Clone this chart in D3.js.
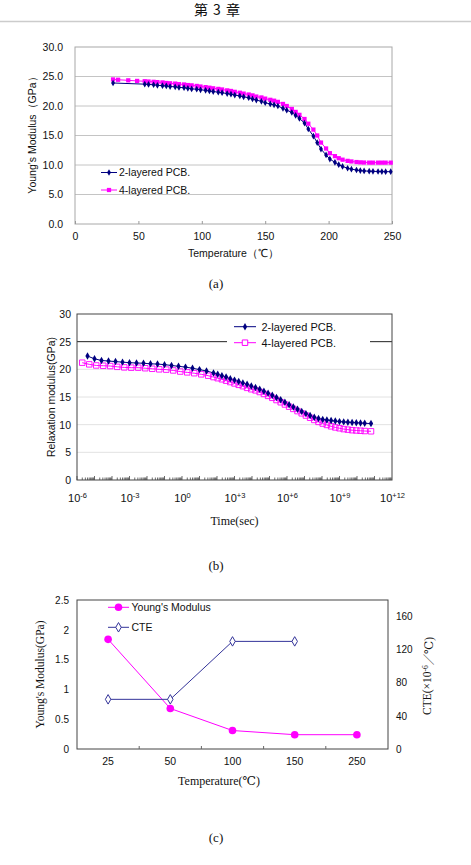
<!DOCTYPE html>
<html>
<head>
<meta charset="utf-8">
<style>
  body { margin: 0; background: #fff; }
  text { font-family: "Liberation Sans", Arial, sans-serif; fill: #111; }
  .serif { font-family: "Liberation Serif", "DejaVu Serif", "Noto Sans CJK JP", serif; }
  .cjk { font-family: "Noto Sans CJK JP", sans-serif; }
</style>
<script src="https://d3js.org/d3.v7.min.js"></script>
</head>
<body>
<script>
// ---- data ----
const headerTitle = "第 3 章";

// (a) Young's modulus vs temperature
const xTicksA = [0, 50, 100, 150, 200, 250];
const yTicksA = [0, 5, 10, 15, 20, 25, 30];
const tempA2 = [30, 55, 58, 62, 65, 69, 72, 75, 79, 82, 86, 89, 92, 96, 99, 103, 106, 109, 113, 116,
  120, 123, 126, 130, 133, 137, 140, 143, 147, 150, 154, 157, 160, 164, 167, 171, 174, 177, 181, 184,
  188, 191, 194, 198, 201, 205, 208, 211, 215, 218, 222, 225, 228, 232, 235, 239, 242, 245, 249];
const modA2 = [23.9, 23.7, 23.65, 23.6, 23.5, 23.45, 23.4, 23.3, 23.25, 23.15, 23.1, 23.0, 22.9, 22.85, 22.75,
  22.65, 22.55, 22.45, 22.35, 22.25, 22.1, 22.0, 21.85, 21.7, 21.55, 21.4, 21.2, 21.0, 20.8, 20.55,
  20.35, 20.2, 20.0, 19.6, 19.3, 18.9, 18.4, 17.9, 17.1, 16.1, 14.9, 13.8, 12.7, 11.7, 11.0,
  10.45, 10.05, 9.75, 9.45, 9.3, 9.15, 9.05, 9.0, 8.95, 8.92, 8.9, 8.88, 8.87, 8.87];
const tempA4 = [30, 34, 42, 49, 55, 58, 62, 65, 69, 72, 75, 79, 82, 86, 89, 92, 96, 99, 103, 106, 109, 113, 116,
  120, 123, 126, 130, 133, 137, 140, 143, 147, 150, 154, 157, 160, 164, 167, 171, 174, 177, 181, 184,
  188, 191, 194, 198, 201, 205, 208, 211, 215, 218, 222, 225, 228, 232, 235, 239, 242, 245, 249];
const modA4 = [24.5, 24.45, 24.35, 24.25, 24.2, 24.15, 24.1, 24.05, 24.0, 23.9, 23.85, 23.8, 23.7, 23.65, 23.55,
  23.5, 23.4, 23.3, 23.2, 23.1, 23.0, 22.9, 22.8, 22.65, 22.55, 22.4, 22.25, 22.1, 21.95, 21.8,
  21.6, 21.45, 21.25, 21.05, 20.9, 20.7, 20.35, 20.0, 19.5, 19.0, 18.5, 17.8, 17.0, 16.0, 15.0,
  13.8, 12.8, 12.0, 11.5, 11.15, 10.9, 10.7, 10.6, 10.5, 10.45, 10.42, 10.4, 10.4, 10.4, 10.4, 10.4, 10.4];

// (b) relaxation modulus vs time (log10 of seconds)
const yTicksB = [0, 5, 10, 15, 20, 25, 30];
const xExpB = [-6, -3, 0, 3, 6, 9, 12];
const xExpLabelsB = ["-6", "-3", "0", "+3", "+6", "+9", "+12"];
const logTimeTail = [2.04, 2.28, 2.52, 2.76, 3.0, 3.24, 3.48, 3.72, 3.96, 4.2, 4.44, 4.68, 4.92, 5.16, 5.4,
  5.64, 5.88, 6.12, 6.36, 6.6, 6.84, 7.08, 7.32, 7.56, 7.8, 8.04, 8.28, 8.52, 8.76, 9.0, 9.24, 9.48,
  9.72, 9.96, 10.2, 10.44, 10.8];
const logTime2 = [-5.4, -5.0, -4.6, -4.2, -3.8, -3.4, -3.0, -2.6, -2.2, -1.8, -1.4, -1.0, -0.6, -0.2,
  0.2, 0.6, 1.0, 1.4, 1.8].concat(logTimeTail);
const relax2 = [22.4, 21.9, 21.6, 21.5, 21.4, 21.3, 21.2, 21.15, 21.1, 21.0, 20.95, 20.85, 20.7, 20.55,
  20.4, 20.2, 19.95, 19.7, 19.35,
  19.1, 18.85, 18.6, 18.3, 18.05, 17.8, 17.55, 17.3, 17.0, 16.7, 16.4, 16.05, 15.7, 15.3, 14.9,
  14.5, 14.05, 13.6, 13.2, 12.8, 12.4, 12.0, 11.65, 11.35, 11.1, 10.95, 10.85, 10.75, 10.65, 10.55, 10.5, 10.45,
  10.4, 10.35, 10.3, 10.25, 10.2];
const logTime4 = [-5.7, -5.3, -4.9, -4.5, -4.1, -3.7, -3.3, -2.9, -2.5, -2.1, -1.7, -1.3, -0.9, -0.5,
  -0.1, 0.3, 0.7, 1.1, 1.5, 1.8].concat(logTimeTail);
const relax4 = [21.2, 20.9, 20.7, 20.65, 20.6, 20.45, 20.35, 20.3, 20.3, 20.2, 20.1, 20.0, 19.95, 19.8,
  19.6, 19.45, 19.3, 19.1, 18.85, 18.6,
  18.4, 18.2, 17.95, 17.7, 17.45, 17.2, 16.95, 16.65, 16.4, 16.2, 15.9, 15.55, 15.2, 14.85, 14.45,
  14.05, 13.65, 13.25, 12.85, 12.45, 12.05, 11.65, 11.25, 10.85, 10.5, 10.2, 9.95, 9.7, 9.5, 9.35, 9.2,
  9.1, 9.0, 8.95, 8.9, 8.85, 8.8];

// (c) Young's modulus and CTE of the resin
const tempCats = ["25", "50", "100", "150", "250"];
const youngC = [1.84, 0.68, 0.31, 0.24, 0.24];
const cteC = [60, 60, 130, 130, null];
const yTicksC = [0, 0.5, 1, 1.5, 2, 2.5];
const y2TicksC = [0, 40, 80, 120, 160];

// ---- drawing ----
const W = 471, H = 865;
const NAVY = "#000080", MAG = "#ff00ff";
const svg = d3.select("body").append("svg").attr("width", W).attr("height", H);

svg.append("text").attr("class", "cjk")
  .attr("x", 217).attr("y", 15).attr("text-anchor", "middle")
  .style("font-size", "14px").style("font-weight", 400).style("word-spacing", "2px").text(headerTitle);
svg.append("line").attr("x1", 0).attr("x2", W).attr("y1", 21.5).attr("y2", 21.5)
  .attr("stroke", "#ccc").attr("stroke-width", 1.5);

function styleAxis(g, size) {
  g.select(".domain").remove();
  g.selectAll("text").style("font-size", size + "px");
}

// ===== (a) =====
const A = { l: 75, r: 392, t: 47, b: 224 };
const xA = d3.scaleLinear().domain([0, 250]).range([A.l, A.r]);
const yA = d3.scaleLinear().domain([0, 30]).range([A.b, A.t]);
const gA = svg.append("g");

gA.selectAll("line.grid").data(yTicksA.slice(1, -1)).join("line")
  .attr("x1", A.l).attr("x2", A.r).attr("y1", d => yA(d)).attr("y2", d => yA(d))
  .attr("stroke", "#c4c4c4");
gA.append("rect").attr("x", A.l).attr("y", A.t).attr("width", A.r - A.l).attr("height", A.b - A.t)
  .attr("fill", "none").attr("stroke", "#a8a8a8");

gA.append("g").attr("transform", `translate(0,${A.b})`)
  .call(d3.axisBottom(xA).tickValues(xTicksA).tickSizeInner(-3).tickSizeOuter(0).tickPadding(9))
  .call(g => styleAxis(g, 10.5)).call(g => g.selectAll("line").attr("stroke", "#999"));
gA.append("g").attr("transform", `translate(${A.l},0)`)
  .call(d3.axisLeft(yA).tickValues(yTicksA).tickFormat(d3.format(".1f")).tickSize(0).tickPadding(12))
  .call(g => styleAxis(g, 10.5));

gA.append("text").attr("transform", `translate(32,${(A.t + A.b) / 2 - 3}) rotate(-90)`)
  .attr("text-anchor", "middle").attr("dy", "0.35em").style("font-size", "10.5px")
  .text("Young's Modulus（GPa）");
gA.append("text").attr("x", (A.l + A.r) / 2).attr("y", 253).attr("dy", "0.35em")
  .attr("text-anchor", "middle").style("font-size", "10.5px").text("Temperature（℃）");
svg.append("text").attr("class", "serif").attr("x", 216).attr("y", 283).attr("dy", "0.35em")
  .attr("text-anchor", "middle").style("font-size", "13px").text("(a)");

const lineA = d3.line().x(d => xA(d[0])).y(d => yA(d[1]));
const dA2 = d3.zip(tempA2, modA2), dA4 = d3.zip(tempA4, modA4);
gA.append("path").datum(dA4).attr("d", lineA).attr("fill", "none").attr("stroke", MAG).attr("stroke-width", 1);
gA.selectAll("path.m4").data(dA4).join("path").attr("class", "m4")
  .attr("transform", d => `translate(${xA(d[0])},${yA(d[1])})`)
  .attr("d", d3.symbol(d3.symbolSquare, 18)).attr("fill", MAG);
gA.append("path").datum(dA2).attr("d", lineA).attr("fill", "none").attr("stroke", NAVY).attr("stroke-width", 1);
gA.selectAll("path.m2").data(dA2).join("path").attr("class", "m2")
  .attr("transform", d => `translate(${xA(d[0])},${yA(d[1])})`)
  .attr("d", d3.symbol(d3.symbolDiamond, 13)).attr("fill", NAVY);

const legA = [
  { name: "2-layered PCB.", color: NAVY, sym: d3.symbol(d3.symbolDiamond, 13)(), y: 172.5 },
  { name: "4-layered PCB.", color: MAG, sym: d3.symbol(d3.symbolSquare, 18)(), y: 190 }
];
legA.forEach(e => {
  gA.append("line").attr("x1", 101).attr("x2", 117).attr("y1", e.y).attr("y2", e.y).attr("stroke", e.color);
  gA.append("path").attr("d", e.sym).attr("transform", `translate(109,${e.y})`).attr("fill", e.color);
  gA.append("text").attr("x", 119).attr("y", e.y).attr("dy", "0.35em").style("font-size", "10.5px").text(e.name);
});

// ===== (b) =====
const B = { l: 77, r: 392, t: 314, b: 480 };
const xB = d3.scaleLog().domain([1e-6, 1e12]).range([B.l, B.r]);
const yB = d3.scaleLinear().domain([0, 30]).range([B.b, B.t]);
const gB = svg.append("g");

gB.selectAll("line.grid").data([5, 10, 15, 20]).join("line")
  .attr("x1", B.l).attr("x2", B.r).attr("y1", d => yB(d)).attr("y2", d => yB(d))
  .attr("stroke", "#e2e2e2");
gB.append("line").attr("x1", B.l).attr("x2", B.r).attr("y1", yB(25)).attr("y2", yB(25))
  .attr("stroke", "#222").attr("stroke-width", 1);

// minor log ticks along the bottom, pointing inward
const minorB = [];
for (let e = -6; e < 12; e++) for (let m = 1; m <= 9; m++) minorB.push({ v: m * Math.pow(10, e), major: m === 1 });
gB.selectAll("line.mt").data(minorB).join("line")
  .attr("x1", d => xB(d.v)).attr("x2", d => xB(d.v))
  .attr("y1", B.b).attr("y2", d => B.b - (d.major ? 4 : 2.5))
  .attr("stroke", "#444").attr("stroke-width", 0.8);

gB.append("rect").attr("x", B.l).attr("y", B.t).attr("width", B.r - B.l).attr("height", B.b - B.t)
  .attr("fill", "none").attr("stroke", "#444");

gB.append("g").attr("transform", `translate(${B.l},0)`)
  .call(d3.axisLeft(yB).tickValues(yTicksB).tickSize(0).tickPadding(6))
  .call(g => styleAxis(g, 10.5));

const xAxB = gB.append("g").attr("transform", `translate(0,${B.b})`)
  .call(d3.axisBottom(xB).tickValues(xExpB.map(e => Math.pow(10, e))).tickSize(0).tickPadding(14).tickFormat(""))
  .call(g => styleAxis(g, 11));
xAxB.selectAll(".tick text").each(function (d, i) {
  const t = d3.select(this);
  t.append("tspan").text("10");
  t.append("tspan").attr("dy", "-0.5em").style("font-size", "7.5px").text(xExpLabelsB[i]);
});

gB.append("text").attr("transform", `translate(51,${(B.t + B.b) / 2}) rotate(-90)`)
  .attr("text-anchor", "middle").attr("dy", "0.35em").style("font-size", "10.5px")
  .text("Relaxation modulus(GPa)");
gB.append("text").attr("class", "serif").attr("x", (B.l + B.r) / 2).attr("y", 521).attr("dy", "0.35em")
  .attr("text-anchor", "middle").style("font-size", "12px").text("Time(sec)");
svg.append("text").attr("class", "serif").attr("x", 216).attr("y", 565).attr("dy", "0.35em")
  .attr("text-anchor", "middle").style("font-size", "13px").text("(b)");

const lineB = d3.line().x(d => xB(Math.pow(10, d[0]))).y(d => yB(d[1]));
const dB2 = d3.zip(logTime2, relax2), dB4 = d3.zip(logTime4, relax4);
gB.append("path").datum(dB4).attr("d", lineB).attr("fill", "none").attr("stroke", MAG);
gB.append("path").datum(dB2).attr("d", lineB).attr("fill", "none").attr("stroke", NAVY);
gB.selectAll("path.m4").data(dB4).join("path").attr("class", "m4")
  .attr("transform", d => `translate(${xB(Math.pow(10, d[0]))},${yB(d[1])})`)
  .attr("d", d3.symbol(d3.symbolSquare, 30)).attr("fill", "none").attr("stroke", MAG).attr("stroke-width", 0.9);
gB.selectAll("path.m2").data(dB2).join("path").attr("class", "m2")
  .attr("transform", d => `translate(${xB(Math.pow(10, d[0]))},${yB(d[1])})`)
  .attr("d", d3.symbol(d3.symbolDiamond, 16)).attr("fill", NAVY);

gB.append("rect").attr("x", 227).attr("y", 318).attr("width", 143).attr("height", 34).attr("fill", "#fff");
const legB = [
  { name: "2-layered PCB.", y: 326.7, draw: g => g.append("path").attr("d", d3.symbol(d3.symbolDiamond, 16)()).attr("fill", NAVY), color: NAVY },
  { name: "4-layered PCB.", y: 342.7, draw: g => g.append("path").attr("d", d3.symbol(d3.symbolSquare, 30)()).attr("fill", "#fff").attr("stroke", MAG), color: MAG }
];
legB.forEach(e => {
  gB.append("line").attr("x1", 234).attr("x2", 256).attr("y1", e.y).attr("y2", e.y).attr("stroke", e.color);
  e.draw(gB.append("g").attr("transform", `translate(245,${e.y})`));
  gB.append("text").attr("x", 261.5).attr("y", e.y).attr("dy", "0.35em").style("font-size", "11px").text(e.name);
});

// ===== (c) =====
const C = { l: 77, r: 388, t: 600, b: 749 };
const SLATE = "#333399";
const xC = d3.scaleBand().domain(tempCats).range([C.l, C.r]);
const yC = d3.scaleLinear().domain([0, 2.5]).range([C.b, C.t]);
const y2C = d3.scaleLinear().domain([0, 180]).range([C.b, C.t]);
const gC = svg.append("g");

gC.append("rect").attr("x", C.l).attr("y", C.t).attr("width", C.r - C.l).attr("height", C.b - C.t)
  .attr("fill", "none").attr("stroke", "#444");
gC.selectAll("line.bt").data(tempCats.slice(1)).join("line")
  .attr("x1", d => xC(d)).attr("x2", d => xC(d)).attr("y1", C.b).attr("y2", C.b - 3)
  .attr("stroke", "#666");

gC.append("g").attr("transform", `translate(0,${C.b})`)
  .call(d3.axisBottom(xC).tickSize(0).tickPadding(9))
  .call(g => styleAxis(g, 10.5));
gC.append("g").attr("transform", `translate(${C.l},0)`)
  .call(d3.axisLeft(yC).tickValues(yTicksC).tickFormat(d3.format("")).tickSize(0).tickPadding(8))
  .call(g => styleAxis(g, 10));
gC.append("g").attr("transform", `translate(${C.r},0)`)
  .call(d3.axisRight(y2C).tickValues(y2TicksC).tickSize(0).tickPadding(8))
  .call(g => styleAxis(g, 10));

gC.append("text").attr("class", "serif").attr("transform", `translate(40,${(C.t + C.b) / 2}) rotate(-90)`)
  .attr("text-anchor", "middle").attr("dy", "0.35em").style("font-size", "11.5px")
  .text("Young's Modulus(GPa)");
const rt = gC.append("text").attr("class", "serif").attr("transform", `translate(427,676) rotate(-90)`)
  .attr("text-anchor", "middle").attr("dy", "0.35em").style("font-size", "11.5px");
rt.append("tspan").text("CTE(×10");
rt.append("tspan").attr("dy", "-0.45em").style("font-size", "7.5px").text("-6");
rt.append("tspan").attr("dy", "0.45em").text("／℃)");
gC.append("text").attr("class", "serif").attr("x", 219).attr("y", 781).attr("dy", "0.35em")
  .attr("text-anchor", "middle").style("font-size", "12px").text("Temperature(℃)");
svg.append("text").attr("class", "serif").attr("x", 216).attr("y", 837).attr("dy", "0.35em")
  .attr("text-anchor", "middle").style("font-size", "13px").text("(c)");

const cx = d => xC(d) + xC.bandwidth() / 2;
const dCy = d3.zip(tempCats, youngC);
const dCc = d3.zip(tempCats, cteC).filter(d => d[1] != null);
gC.append("path").datum(dCy).attr("fill", "none").attr("stroke", MAG)
  .attr("d", d3.line().x(d => cx(d[0])).y(d => yC(d[1])));
gC.selectAll("circle.yc").data(dCy).join("circle").attr("class", "yc")
  .attr("cx", d => cx(d[0])).attr("cy", d => yC(d[1])).attr("r", 3.8).attr("fill", MAG);
gC.append("path").datum(dCc).attr("fill", "none").attr("stroke", SLATE)
  .attr("d", d3.line().x(d => cx(d[0])).y(d => y2C(d[1])));
gC.selectAll("path.cc").data(dCc).join("path").attr("class", "cc")
  .attr("transform", d => `translate(${cx(d[0])},${y2C(d[1])})`)
  .attr("d", d3.symbol(d3.symbolDiamond, 26)).attr("fill", "#fff").attr("stroke", SLATE);

// legend (c)
gC.append("line").attr("x1", 108).attr("x2", 129).attr("y1", 607.3).attr("y2", 607.3).attr("stroke", MAG);
gC.append("circle").attr("cx", 118.5).attr("cy", 607.3).attr("r", 3.8).attr("fill", MAG);
gC.append("text").attr("x", 131.5).attr("y", 607.3).attr("dy", "0.35em").style("font-size", "10.5px").text("Young's Modulus");
gC.append("line").attr("x1", 108).attr("x2", 129).attr("y1", 627.3).attr("y2", 627.3).attr("stroke", SLATE);
gC.append("path").attr("d", d3.symbol(d3.symbolDiamond, 26)()).attr("transform", "translate(118.5,627.3)")
  .attr("fill", "#fff").attr("stroke", SLATE);
gC.append("text").attr("x", 131.5).attr("y", 627.3).attr("dy", "0.35em").style("font-size", "10.5px").text("CTE");
</script>
</body>
</html>
